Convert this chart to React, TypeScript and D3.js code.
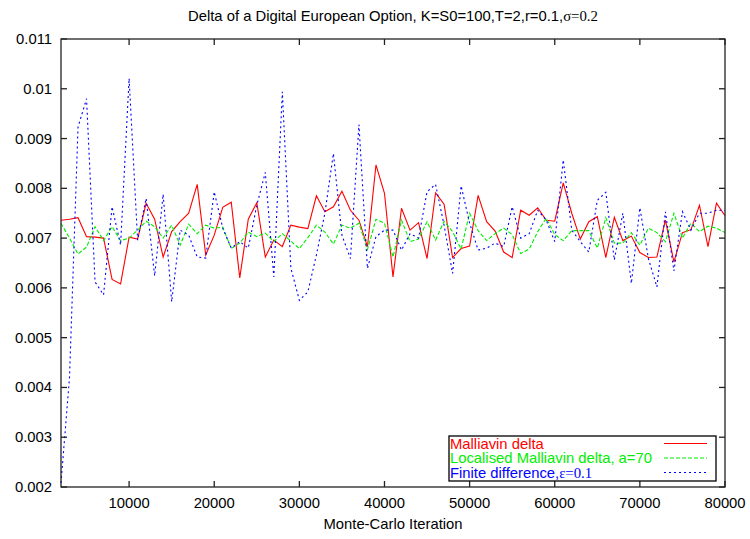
import React, { useEffect, useRef } from 'react';
import * as d3 from 'd3';

// Monte-Carlo iteration grid: 2000 .. 80000, step 1000
const iterations = d3.range(2000, 80001, 1000);

const malliavin = [
  0.00736, 0.00738, 0.00741, 0.00703, 0.00702, 0.00700, 0.00617, 0.00608, 0.00702, 0.00698,
  0.00770, 0.00738, 0.00662, 0.00713, 0.00733, 0.00750, 0.00808, 0.00666, 0.00706, 0.00762,
  0.00772, 0.00620, 0.00738, 0.00771, 0.00662, 0.00696, 0.00683, 0.00726, 0.00722, 0.00719,
  0.00785, 0.00753, 0.00763, 0.00794, 0.00756, 0.00736, 0.00683, 0.00847, 0.00790, 0.00622,
  0.00760, 0.00716, 0.00731, 0.00659, 0.00791, 0.00768, 0.00661, 0.00679, 0.00684, 0.00786,
  0.00733, 0.00714, 0.00672, 0.00661, 0.00756, 0.00746, 0.00761, 0.00736, 0.00734, 0.00811,
  0.00750, 0.00698, 0.00733, 0.00743, 0.00661, 0.00742, 0.00695, 0.00704, 0.00671, 0.00661,
  0.00662, 0.00736, 0.00652, 0.00711, 0.00717, 0.00766, 0.00683, 0.00770, 0.00745,
];

const localised = [
  0.00730, 0.00700, 0.00668, 0.00682, 0.00723, 0.00695, 0.00723, 0.00695, 0.00700, 0.00716,
  0.00734, 0.00723, 0.00700, 0.00726, 0.00686, 0.00728, 0.00709, 0.00726, 0.00720, 0.00722,
  0.00679, 0.00690, 0.00712, 0.00703, 0.00710, 0.00693, 0.00709, 0.00694, 0.00679, 0.00701,
  0.00726, 0.00712, 0.00688, 0.00726, 0.00720, 0.00730, 0.00677, 0.00738, 0.00730, 0.00662,
  0.00736, 0.00693, 0.00698, 0.00733, 0.00696, 0.00734, 0.00713, 0.00678, 0.00750, 0.00715,
  0.00695, 0.00709, 0.00720, 0.00707, 0.00669, 0.00678, 0.00713, 0.00740, 0.00707, 0.00695,
  0.00715, 0.00715, 0.00715, 0.00680, 0.00741, 0.00690, 0.00690, 0.00711, 0.00686, 0.00720,
  0.00711, 0.00693, 0.00750, 0.00700, 0.00730, 0.00713, 0.00724, 0.00720, 0.00711,
];

const finiteDiff = [
  0.00208, 0.00420, 0.00923, 0.00980, 0.00612, 0.00586, 0.00763, 0.00686, 0.01021, 0.00696,
  0.00780, 0.00624, 0.00788, 0.00572, 0.00716, 0.00706, 0.00662, 0.00660, 0.00793, 0.00720,
  0.00680, 0.00693, 0.00680, 0.00766, 0.00832, 0.00622, 0.00994, 0.00640, 0.00575, 0.00592,
  0.00666, 0.00750, 0.00870, 0.00706, 0.00659, 0.00928, 0.00639, 0.00703, 0.00716, 0.00716,
  0.00676, 0.00709, 0.00700, 0.00793, 0.00808, 0.00726, 0.00629, 0.00805, 0.00730, 0.00676,
  0.00680, 0.00690, 0.00683, 0.00763, 0.00700, 0.00709, 0.00756, 0.00736, 0.00693, 0.00857,
  0.00716, 0.00693, 0.00672, 0.00776, 0.00792, 0.00656, 0.00750, 0.00609, 0.00761, 0.00659,
  0.00602, 0.00753, 0.00634, 0.00753, 0.00716, 0.00750, 0.00750, 0.00756, 0.00756,
];

const xTicks = [10000, 20000, 30000, 40000, 50000, 60000, 70000, 80000];
const yTicks = [0.002, 0.003, 0.004, 0.005, 0.006, 0.007, 0.008, 0.009, 0.01, 0.011];

const series = [
  { name: 'Malliavin delta', values: malliavin, color: '#ff0000', dash: null },
  { name: 'Localised Malliavin delta, a=70', values: localised, color: '#00ee00', dash: '4,2' },
  { name: 'Finite difference,', values: finiteDiff, color: '#0000ff', dash: '2,3' },
];

const W = 750;
const H = 539;
const sans = '"Liberation Sans", Arial, sans-serif';
const serif = '"Liberation Serif", "Times New Roman", serif';

const App: React.FC = () => {
  const svgRef = useRef<SVGSVGElement>(null);

  useEffect(() => {
    if (!svgRef.current) return;
    const svg = d3.select(svgRef.current);
    svg.selectAll('*').remove();

    const left = 61, right = 725, top = 39, bottom = 487;
    const x = d3.scaleLinear().domain([2000, 80000]).range([left, right]);
    const y = d3.scaleLinear().domain([0.002, 0.011]).range([bottom, top]);

    // title
    const title = svg.append('text')
      .attr('x', (left + right) / 2)
      .attr('y', 21)
      .attr('text-anchor', 'middle')
      .style('font-family', sans)
      .style('font-size', '14.8px')
      .attr('fill', '#000');
    title.append('tspan').text('Delta of a Digital European Option, K=S0=100,T=2,r=0.1,');
    title.append('tspan').style('font-family', serif).text('σ=0.2');

    // lines
    const line = d3.line<number>()
      .x((_, i) => x(iterations[i]))
      .y(d => y(d));

    const plot = svg.append('g');
    series.forEach(s => {
      plot.append('path')
        .datum(s.values)
        .attr('d', line)
        .attr('fill', 'none')
        .attr('stroke', s.color)
        .attr('stroke-width', 1.1)
        .attr('stroke-dasharray', s.dash as any);
    });

    // border and ticks
    const tickLen = 6;
    const axis = svg.append('g').attr('stroke', '#222').attr('stroke-width', 1.3);
    axis.append('rect')
      .attr('x', left).attr('y', top)
      .attr('width', right - left).attr('height', bottom - top)
      .attr('fill', 'none');

    xTicks.forEach(t => {
      axis.append('line').attr('x1', x(t)).attr('x2', x(t)).attr('y1', bottom).attr('y2', bottom - tickLen);
      axis.append('line').attr('x1', x(t)).attr('x2', x(t)).attr('y1', top).attr('y2', top + tickLen);
    });
    yTicks.forEach(t => {
      axis.append('line').attr('x1', left).attr('x2', left + tickLen).attr('y1', y(t)).attr('y2', y(t));
      axis.append('line').attr('x1', right).attr('x2', right - tickLen).attr('y1', y(t)).attr('y2', y(t));
    });

    const fmt = d3.format('~g');
    svg.append('g').selectAll('text')
      .data(xTicks)
      .enter().append('text')
      .attr('x', d => x(d))
      .attr('y', 508)
      .attr('text-anchor', 'middle')
      .style('font-family', sans)
      .style('font-size', '14.8px')
      .text(d => String(d));

    svg.append('g').selectAll('text')
      .data(yTicks)
      .enter().append('text')
      .attr('x', 52)
      .attr('y', d => y(d) + 5)
      .attr('text-anchor', 'end')
      .style('font-family', sans)
      .style('font-size', '14.8px')
      .text(d => fmt(d));

    svg.append('text')
      .attr('x', (left + right) / 2)
      .attr('y', 529)
      .attr('text-anchor', 'middle')
      .style('font-family', sans)
      .style('font-size', '14.8px')
      .text('Monte-Carlo Iteration');

    // legend
    const lg = svg.append('g');
    lg.append('rect')
      .attr('x', 449).attr('y', 436)
      .attr('width', 267).attr('height', 45)
      .attr('fill', '#fff')
      .attr('stroke', '#000')
      .attr('stroke-width', 1.3);
    series.forEach((s, i) => {
      const ly = 443.5 + i * 14.5;
      const t = lg.append('text')
        .attr('x', 450)
        .attr('y', ly + 5)
        .attr('fill', s.color)
        .style('font-family', sans)
        .style('font-size', '14.8px')
        .text(s.name);
      if (i === 2) {
        t.append('tspan').style('font-family', serif).text('ε=0.1');
      }
      lg.append('line')
        .attr('x1', 664).attr('x2', 707)
        .attr('y1', ly).attr('y2', ly)
        .attr('stroke', s.color)
        .attr('stroke-width', 1.1)
        .attr('stroke-dasharray', s.dash as any);
    });
  }, []);

  return (
    <svg ref={svgRef} width={W} height={H}
      style={{ position: 'absolute', left: 0, top: 0, background: '#fff' }} />
  );
};

export default App;
